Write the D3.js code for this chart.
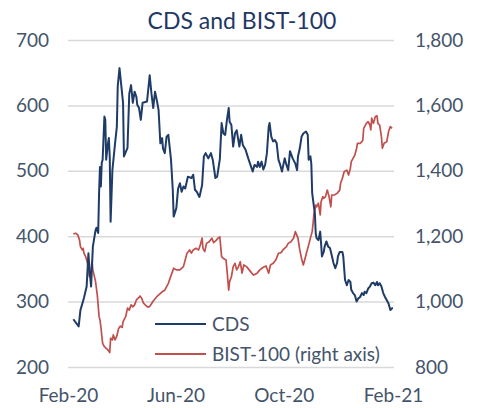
<!DOCTYPE html>
<html>
<head>
<meta charset="utf-8">
<script src="https://cdn.jsdelivr.net/npm/d3@7"></script>
<style>
  body { margin: 0; background: #fff; }
  svg text { font-family: Lato, "Open Sans", sans-serif; }
</style>
</head>
<body>
<div id="chart"></div>
<script>
// x values are days counted from startDate
var startDate = new Date(2020, 1, 1);

var cdsDays = [6, 12, 14, 17, 18, 21, 23, 24, 26, 28, 31, 32, 34, 35, 36, 37, 38, 39, 41, 42,
  43, 45, 46, 47, 48, 50, 53, 55, 56, 58, 62, 63, 67, 69, 71, 73, 75, 77, 78, 80,
  82, 84, 89, 92, 94, 96, 98, 100, 102, 104, 106, 107, 109, 111, 113, 116, 118, 119, 122, 124,
  126, 128, 130, 132, 135, 139, 141, 143, 145, 148, 151, 153, 155, 158, 161, 163, 166, 168, 171, 173,
  175, 177, 179, 181, 182, 184, 186, 188, 190, 193, 195, 197, 200, 203, 205, 208, 210, 213, 214, 216,
  218, 220, 222, 224, 226, 227, 229, 231, 233, 235, 237, 239, 241, 242, 244, 246, 248, 250, 253, 256,
  258, 259, 261, 263, 265, 268, 270, 271, 273, 274, 275, 276, 277, 278, 279, 280, 282, 284, 285, 286,
  288, 289, 291, 293, 295, 297, 299, 301, 303, 304, 306, 309, 310, 312, 314, 316, 318, 319, 321, 323,
  325, 327, 329, 331, 333, 334, 336, 338, 340, 342, 344, 346, 348, 349, 351, 353, 355, 357, 359, 361,
  363, 365, 366];
var cdsValues = [273, 262, 287, 301, 306, 323, 374, 353, 323, 384, 409, 413, 405, 466, 506, 476, 512, 517, 583, 578,
  517, 542, 550, 522, 422, 501, 542, 567, 629, 657, 604, 522, 535, 618, 631, 604, 621, 613, 601, 596,
  578, 604, 606, 646, 618, 596, 621, 608, 593, 542, 550, 534, 527, 552, 555, 517, 471, 430, 443, 473,
  481, 468, 476, 473, 491, 489, 494, 471, 468, 460, 478, 522, 527, 519, 527, 517, 489, 491, 518, 573,
  557, 555, 578, 596, 575, 570, 537, 557, 562, 537, 555, 539, 532, 519, 511, 499, 509, 506, 514, 506,
  514, 502, 509, 527, 567, 573, 552, 545, 547, 542, 517, 509, 499, 506, 519, 509, 501, 530, 519, 511,
  501, 522, 534, 552, 557, 560, 555, 517, 522, 511, 466, 455, 445, 435, 404, 397, 394, 407, 389, 369,
  376, 384, 392, 384, 382, 371, 359, 351, 359, 369, 376, 376, 369, 333, 325, 333, 330, 318, 313, 310,
  300, 305, 307, 313, 310, 315, 313, 320, 323, 328, 329, 325, 330, 325, 328, 323, 313, 307, 302, 297,
  287, 290, 290];

var bistDays = [6, 9, 11, 13, 14, 16, 17, 18, 20, 22, 24, 26, 27, 28, 31, 33, 35, 36, 37, 39,
  41, 43, 45, 47, 48, 50, 51, 53, 55, 57, 59, 61, 62, 65, 67, 69, 71, 73, 75, 77,
  80, 81, 83, 85, 87, 90, 92, 96, 100, 106, 109, 113, 117, 119, 122, 126, 130, 134, 137, 139,
  141, 144, 147, 149, 151, 152, 154, 156, 159, 162, 164, 167, 169, 171, 173, 175, 178, 179, 181, 182,
  184, 186, 188, 190, 192, 194, 196, 198, 201, 204, 207, 209, 213, 216, 220, 223, 226, 228, 231, 234,
  237, 240, 242, 246, 248, 251, 254, 256, 259, 261, 263, 265, 267, 269, 271, 273, 275, 276, 277, 278,
  279, 280, 282, 284, 285, 287, 288, 290, 292, 294, 296, 297, 300, 303, 306, 307, 309, 311, 314, 316,
  318, 319, 321, 323, 325, 326, 329, 331, 332, 333, 336, 338, 340, 341, 342, 344, 346, 348, 349, 351,
  353, 354, 356, 359, 361, 363, 365];
var bistValues = [1207, 1209, 1204, 1188, 1168, 1158, 1163, 1148, 1137, 1117, 1076, 1097, 1122, 1097, 1062, 1020, 954, 944, 923, 872,
  862, 857, 852, 844, 888, 883, 898, 883, 895, 918, 925, 921, 939, 954, 980, 974, 990, 984, 990, 1005,
  1013, 1017, 1010, 995, 990, 983, 985, 1002, 1015, 1030, 1035, 1056, 1087, 1102, 1097, 1097, 1107, 1148, 1158, 1148,
  1158, 1163, 1158, 1173, 1194, 1163, 1153, 1178, 1183, 1194, 1180, 1188, 1194, 1198, 1137, 1132, 1127, 1097, 1035, 1061,
  1076, 1107, 1117, 1097, 1107, 1122, 1087, 1112, 1107, 1097, 1087, 1081, 1087, 1097, 1105, 1109, 1087, 1112, 1117, 1127,
  1148, 1150, 1158, 1168, 1178, 1183, 1194, 1214, 1194, 1158, 1132, 1112, 1132, 1153, 1173, 1194, 1214, 1239, 1270, 1280,
  1295, 1290, 1301, 1265, 1305, 1321, 1316, 1321, 1341, 1321, 1290, 1326, 1326, 1331, 1341, 1362, 1377, 1397, 1402, 1387,
  1408, 1428, 1438, 1448, 1469, 1484, 1484, 1489, 1494, 1530, 1545, 1550, 1540, 1525, 1561, 1545, 1565, 1568, 1545, 1540,
  1504, 1469, 1484, 1489, 1520, 1535, 1530];

var leftTicks = [200, 300, 400, 500, 600, 700];
var rightTicks = [800, 1000, 1200, 1400, 1600, 1800];
var xTicks = [new Date(2020, 1, 1), new Date(2020, 5, 1), new Date(2020, 9, 1), new Date(2021, 1, 1)];
var seriesNames = ['CDS', 'BIST-100 (right axis)'];

var width = 480, height = 408;
var plotL = 68, plotR = 393, plotT = 40, plotB = 367;
var navy = '#1f3c68', red = '#c0504d', textCol = '#44546a';

var svg = d3.select('#chart').append('svg')
    .attr('width', width)
    .attr('height', height);

var x = d3.scaleTime()
    .domain([xTicks[0], xTicks[3]])
    .range([plotL, plotR]);
var yL = d3.scaleLinear().domain([200, 700]).range([plotB, plotT]);
var yR = d3.scaleLinear().domain([800, 1800]).range([plotB, plotT]);

// title
svg.append('text')
    .attr('x', 242)
    .attr('y', 29)
    .attr('text-anchor', 'middle')
    .style('font-size', '23px')
    .style('fill', '#1f3864')
    .text('CDS and BIST-100');

// gridlines
svg.append('g')
    .attr('transform', 'translate(' + plotL + ',0)')
    .call(d3.axisLeft(yL).tickValues(leftTicks).tickSize(-(plotR - plotL + 1)).tickFormat(''))
    .call(function (g) {
        g.select('.domain').remove();
        g.selectAll('line').attr('stroke', '#d9d9d9').attr('stroke-width', 1.5);
    });

// left axis labels
svg.append('g')
    .attr('transform', 'translate(49,0)')
    .call(d3.axisLeft(yL).tickValues(leftTicks).tickSize(0).tickPadding(0))
    .call(function (g) {
        g.select('.domain').remove();
        g.selectAll('text').style('font-size', '19px').style('fill', textCol);
    });

// right axis labels
svg.append('g')
    .attr('transform', 'translate(415,0)')
    .call(d3.axisRight(yR).tickValues(rightTicks).tickSize(0).tickPadding(0).tickFormat(d3.format(',')))
    .call(function (g) {
        g.select('.domain').remove();
        g.selectAll('text').style('font-size', '19px').style('fill', textCol);
    });

// x axis labels
svg.append('g')
    .attr('transform', 'translate(0,388)')
    .call(d3.axisBottom(x).tickValues(xTicks).tickSize(0).tickPadding(0).tickFormat(d3.timeFormat('%b-%y')))
    .call(function (g) {
        g.select('.domain').remove();
        g.selectAll('text').style('font-size', '19px').style('fill', textCol);
    });

var cdsData = cdsDays.map(function (d, i) { return { date: d3.timeDay.offset(startDate, d), v: cdsValues[i] }; });
var bistData = bistDays.map(function (d, i) { return { date: d3.timeDay.offset(startDate, d), v: bistValues[i] }; });

svg.append('path')
    .datum(bistData)
    .attr('fill', 'none')
    .attr('stroke', red)
    .attr('stroke-width', 1.7)
    .attr('stroke-linejoin', 'round')
    .attr('d', d3.line().x(function (d) { return x(d.date); }).y(function (d) { return yR(d.v); }));

svg.append('path')
    .datum(cdsData)
    .attr('fill', 'none')
    .attr('stroke', navy)
    .attr('stroke-width', 2)
    .attr('stroke-linejoin', 'round')
    .attr('d', d3.line().x(function (d) { return x(d.date); }).y(function (d) { return yL(d.v); }));

// legend
var legend = svg.append('g');
[navy, red].forEach(function (c, i) {
    var ly = 324 + i * 30;
    legend.append('line')
        .attr('x1', 155).attr('x2', 206)
        .attr('y1', ly).attr('y2', ly)
        .attr('stroke', c).attr('stroke-width', 2);
    legend.append('text')
        .attr('x', 212).attr('y', ly)
        .attr('dy', '0.35em')
        .style('font-size', '19px')
        .style('fill', textCol)
        .text(seriesNames[i]);
});
</script>
</body>
</html>
